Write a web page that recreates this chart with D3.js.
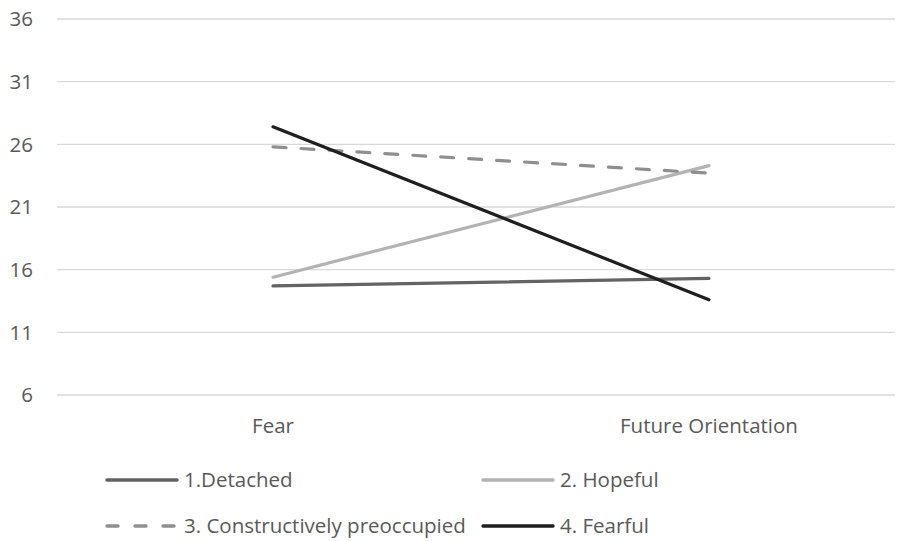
<!DOCTYPE html>
<html><head><meta charset="utf-8">
<script src="https://cdn.jsdelivr.net/npm/d3@7"></script>
<style>body{margin:0;background:#fff}svg{display:block}text{font-family:"Open Sans",sans-serif;fill:#595959}</style>
</head><body><svg id="c" width="914" height="541"></svg>
<script>
const categories = ["Fear", "Future Orientation"];
const seriesNames = ["1.Detached", "2. Hopeful", "3. Constructively preoccupied", "4. Fearful"];
const detached = [14.7, 15.3];
const hopeful = [15.4, 24.3];
const constructive = [25.8, 23.7];
const fearful = [27.4, 13.6];
const yTicks = [6, 11, 16, 21, 26, 31, 36];

const seriesColors = ["#636363", "#b3b3b3", "#8f8f8f", "#1f1f1f"];
const seriesDash = [null, null, "13,15", null];
const allSeries = [detached, hopeful, constructive, fearful];
const fs = 20.5;

const svg = d3.select("#c");
const x = d3.scalePoint().domain(categories).range([273, 709]);
const y = d3.scaleLinear().domain([6, 36]).range([395, 19]);
const gridX0 = 57, gridX1 = 895;

svg.append("g").selectAll("line").data(yTicks).join("line")
  .attr("x1", gridX0).attr("x2", gridX1)
  .attr("y1", d => y(d)).attr("y2", d => y(d))
  .attr("stroke", "#d9d9d9").attr("stroke-width", 1.3);

svg.append("g").selectAll("text").data(yTicks).join("text")
  .attr("x", 33).attr("y", d => y(d)).attr("dy", "0.36em")
  .attr("text-anchor", "end").attr("font-size", fs).text(d => d);

svg.append("g").selectAll("text").data(categories).join("text")
  .attr("x", d => x(d)).attr("y", 433)
  .attr("text-anchor", "middle").attr("font-size", fs).text(d => d);

const line = d3.line().x((d, i) => x(categories[i])).y(d => y(d));
allSeries.forEach((s, i) => {
  svg.append("path").datum(s).attr("d", line).attr("fill", "none")
    .attr("stroke", seriesColors[i]).attr("stroke-width", 3.2)
    .attr("stroke-linecap", "round")
    .attr("stroke-dasharray", seriesDash[i]);
});

const legPos = [[107, 480], [483, 480], [107, 526], [483, 526]];
seriesNames.forEach((n, i) => {
  const [lx, ly] = legPos[i];
  svg.append("line").attr("x1", lx).attr("x2", lx + 70).attr("y1", ly).attr("y2", ly)
    .attr("stroke", seriesColors[i]).attr("stroke-width", 3.4)
    .attr("stroke-linecap", "round")
    .attr("stroke-dasharray", i === 2 ? "11,17" : null);
  svg.append("text").attr("x", lx + 77).attr("y", ly + 6.5)
    .attr("font-size", fs).text(n);
});
</script></body></html>
